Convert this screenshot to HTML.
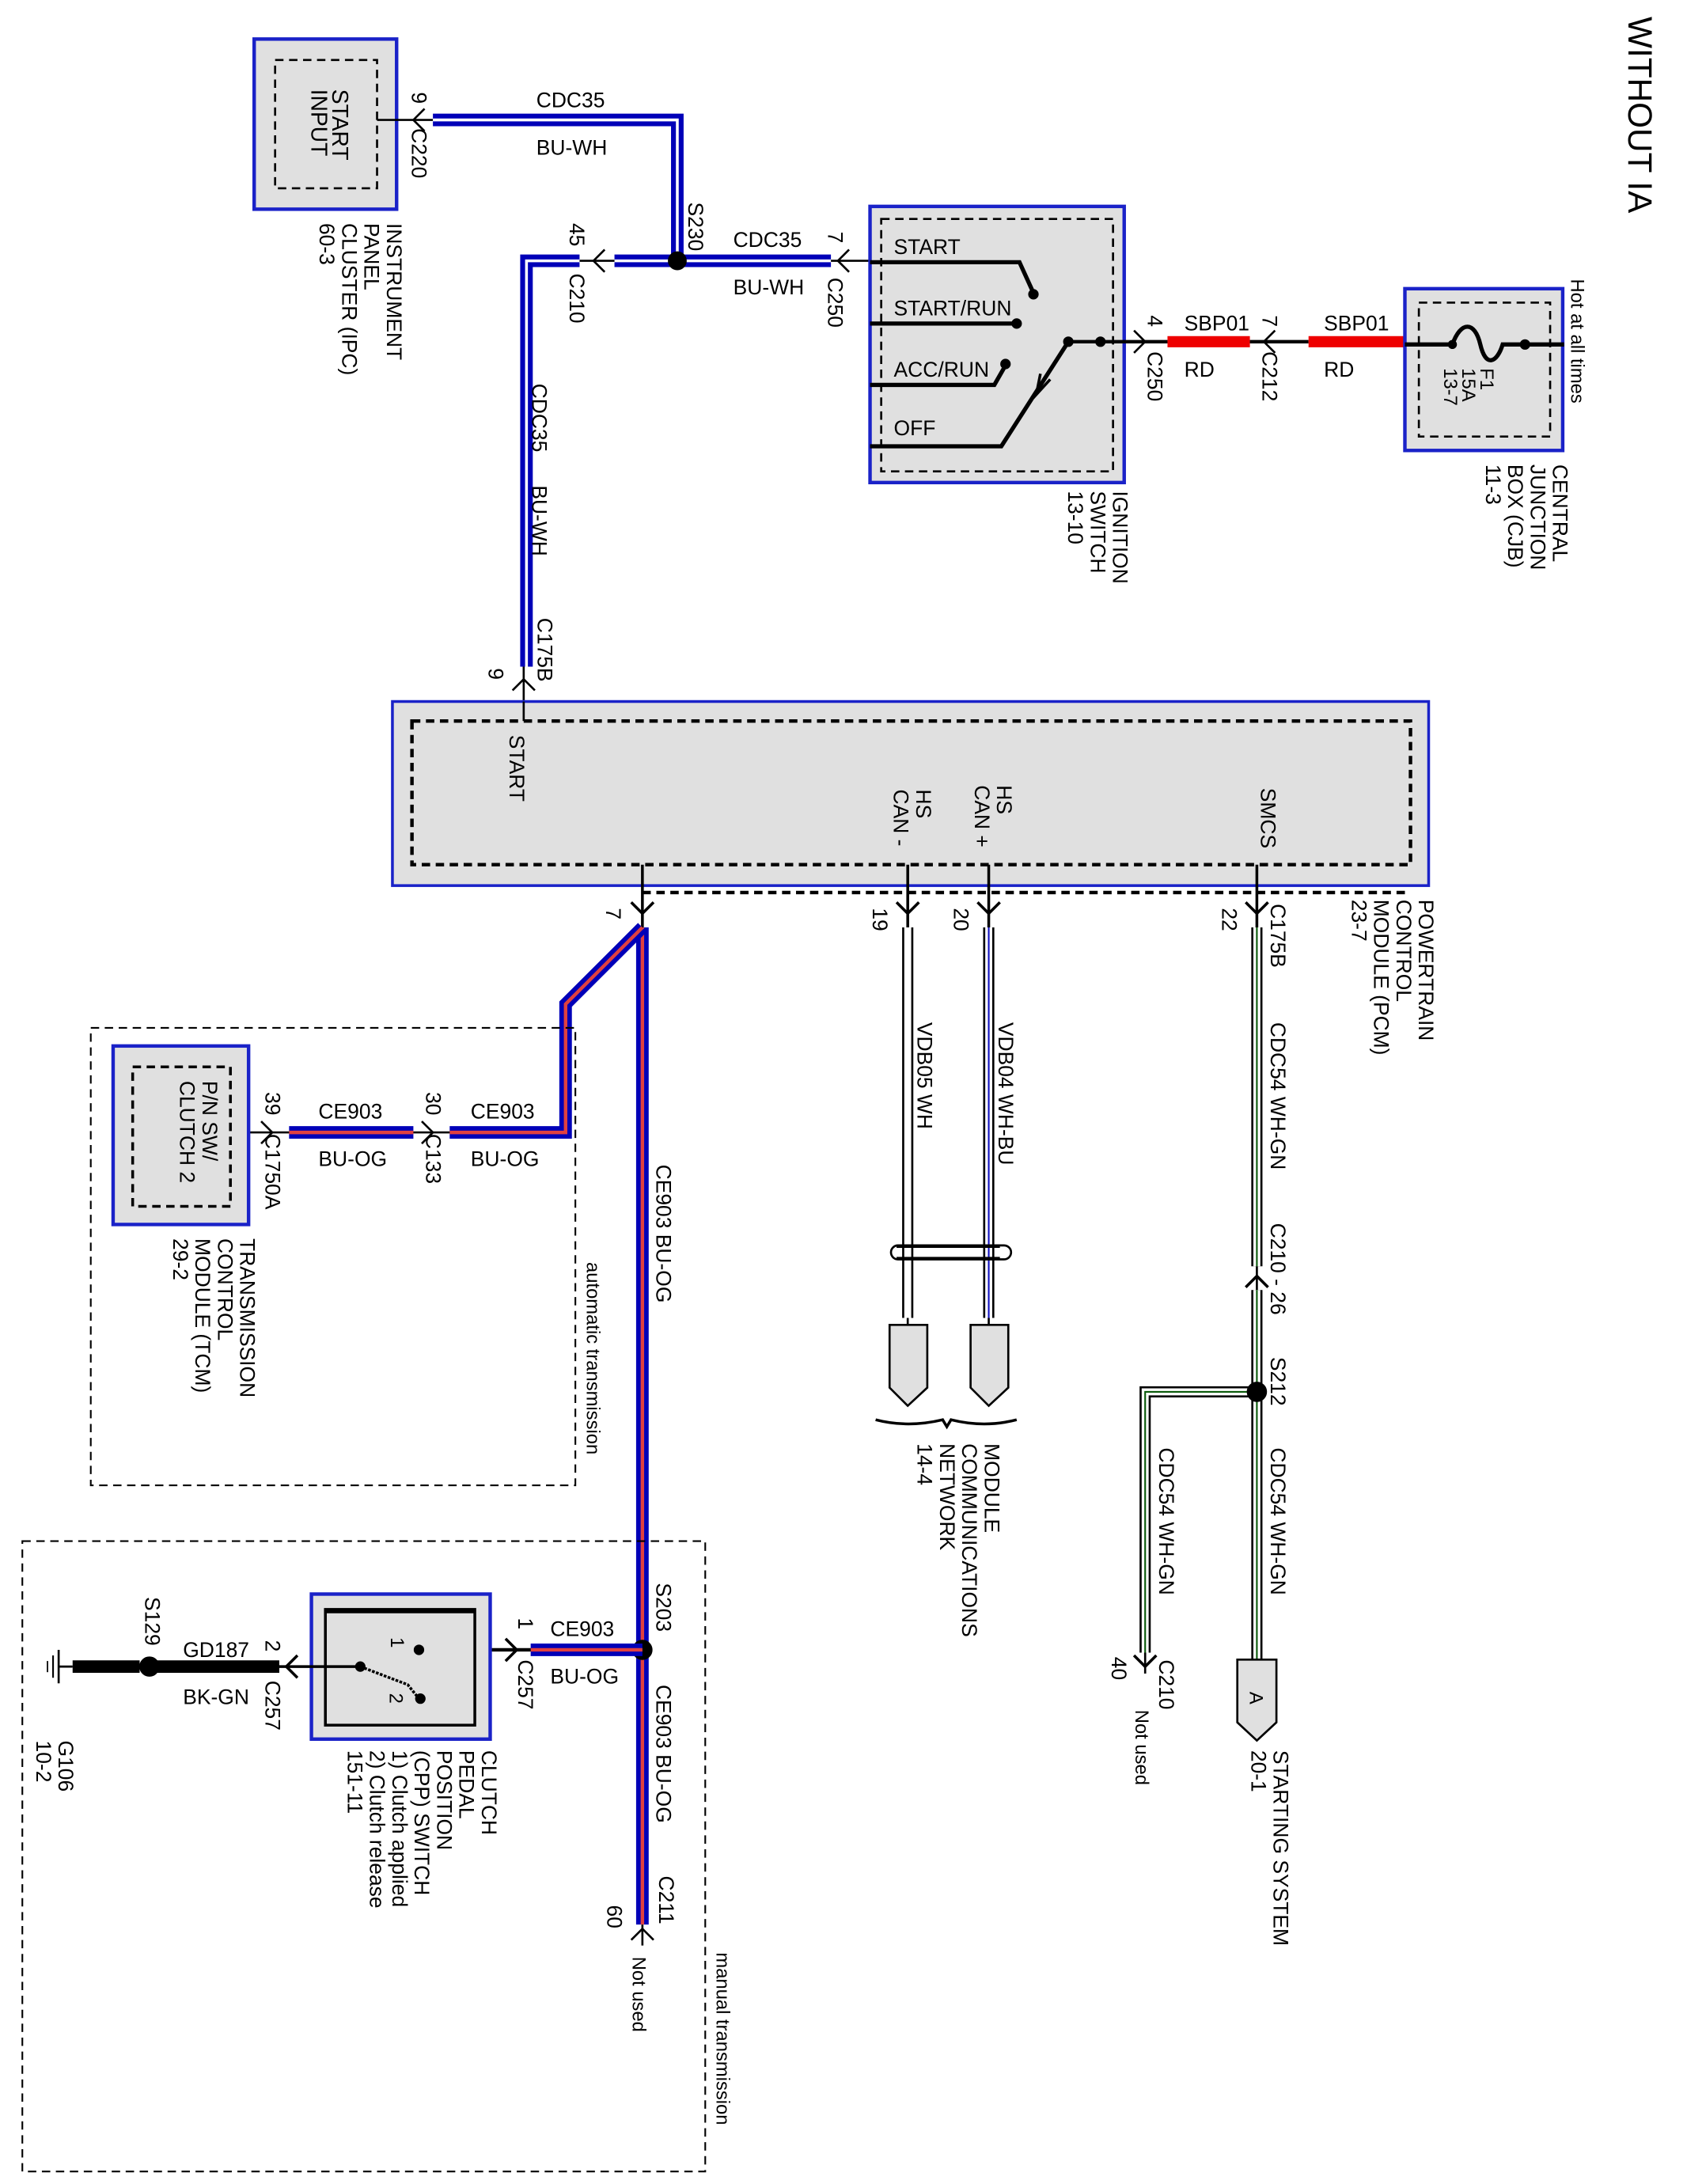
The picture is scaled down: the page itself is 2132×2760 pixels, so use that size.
<!DOCTYPE html>
<html><head><meta charset="utf-8"><style>
html,body{margin:0;padding:0;background:#fff;}
svg{display:block;}
text{font-family:"Liberation Sans",Arial,sans-serif;font-size:15px;fill:#000;}
.s{font-size:13.5px;}
</style></head><body>
<svg width="2132" height="2760" viewBox="0 0 1208 1566" preserveAspectRatio="none" xmlns="http://www.w3.org/2000/svg">
<g fill="none" stroke="#000" stroke-width="1.5">
<!-- IPC -->
<rect x="182" y="28" width="102" height="122" fill="#e0e0e0" stroke="#1a22c8" stroke-width="2.5"/>
<rect x="197" y="43" width="73" height="92" stroke-dasharray="6,4"/>
<line x1="270" y1="86" x2="310" y2="86"/>
<polyline points="304,78 296,86 304,94"/>
<!-- BU-WH wire top -->
<path d="M310,86 H485 V187" stroke="#0000b8" stroke-width="9"/>
<path d="M310,86 H485 V187" stroke="#fff" stroke-width="2"/>
<line x1="440" y1="187" x2="595" y2="187" stroke="#0000b8" stroke-width="9"/>
<line x1="440" y1="187" x2="595" y2="187" stroke="#fff" stroke-width="2"/>
<line x1="415" y1="187" x2="440" y2="187"/>
<polyline points="433,179 425,187 433,195"/>
<line x1="595" y1="187" x2="623" y2="187"/>
<polyline points="608,179 600,187 608,195"/>
<circle cx="485" cy="187" r="6" fill="#000"/>
<path d="M415,187 H377 V478" stroke="#0000b8" stroke-width="9"/>
<path d="M415,187 H377 V478" stroke="#fff" stroke-width="2"/>
<line x1="375" y1="478" x2="375" y2="503"/>
<polyline points="367,495 375,487 383,495"/>
<!-- Ignition switch -->
<rect x="623" y="148" width="182" height="198" fill="#e0e0e0" stroke="#1a22c8" stroke-width="2.5"/>
<rect x="631" y="157" width="166" height="181" stroke-dasharray="6,4"/>
<path d="M623,188 H730 L740,210" stroke-width="3"/><circle cx="740" cy="211" r="3" fill="#000"/>
<path d="M623,232 H728" stroke-width="3"/><circle cx="728" cy="232" r="3" fill="#000"/>
<path d="M623,276 H712 L720,262" stroke-width="3"/><circle cx="720" cy="261" r="3" fill="#000"/>
<path d="M623,320 H717 L765,245" stroke-width="3"/>
<polyline points="745,268 742,283 752,272" stroke-width="2"/>
<line x1="765" y1="245" x2="836" y2="245" stroke-width="2.5"/>
<circle cx="765" cy="245" r="3" fill="#000"/><circle cx="788" cy="245" r="3" fill="#000"/>
<polyline points="812,237 820,245 812,253"/>
<line x1="836" y1="245" x2="895" y2="245" stroke="#e00" stroke-width="8"/>
<line x1="895" y1="245" x2="937" y2="245" stroke-width="2.5"/>
<polyline points="913,237 905,245 913,253"/>
<line x1="937" y1="245" x2="1005" y2="245" stroke="#e00" stroke-width="8"/>
<!-- CJB -->
<rect x="1006" y="207" width="113" height="116" fill="#e0e0e0" stroke="#1a22c8" stroke-width="2.5"/>
<rect x="1016" y="217" width="94" height="96" stroke-dasharray="6,4"/>
<path d="M1006,247 H1040 C1046,230 1056,230 1060,247 C1064,264 1072,260 1076,247 H1120" stroke-width="3"/>
<circle cx="1040" cy="247" r="2.5" fill="#000"/><circle cx="1092" cy="247" r="3" fill="#000"/>
<!-- PCM -->
<rect x="281" y="503" width="742" height="132" fill="#e0e0e0" stroke="#1a22c8" stroke-width="2"/>
<rect x="295" y="517" width="715" height="103" stroke-dasharray="6,4" stroke-width="2.5"/>
<line x1="460" y1="640" x2="1010" y2="640" stroke-dasharray="6,4" stroke-width="2.5"/>
<line x1="375" y1="503" x2="375" y2="517"/>
<line x1="460" y1="620" x2="460" y2="665" stroke-width="2"/>
<line x1="650" y1="620" x2="650" y2="665" stroke-width="2"/>
<line x1="708" y1="620" x2="708" y2="665" stroke-width="2"/>
<line x1="900" y1="620" x2="900" y2="665" stroke-width="2"/>
<polyline points="452,647 460,655 468,647" stroke-width="2"/>
<polyline points="642,647 650,655 658,647" stroke-width="2"/>
<polyline points="700,647 708,655 716,647" stroke-width="2"/>
<polyline points="892,647 900,655 908,647" stroke-width="2"/>
<!-- BU-OG wires -->
<path d="M460,665 V1380" stroke="#0000b8" stroke-width="9"/>
<path d="M460,665 V1380" stroke="#e04040" stroke-width="2.5"/>
<path d="M460,665 L405,720 V812 H322" stroke="#0000b8" stroke-width="9"/>
<path d="M460,665 L405,720 V812 H322" stroke="#e04040" stroke-width="2.5"/>
<line x1="296" y1="812" x2="322" y2="812"/>
<polyline points="302,804 310,812 302,820"/>
<line x1="207" y1="812" x2="296" y2="812" stroke="#0000b8" stroke-width="9"/>
<line x1="207" y1="812" x2="296" y2="812" stroke="#e04040" stroke-width="2.5"/>
<line x1="165" y1="812" x2="207" y2="812"/>
<polyline points="187,804 195,812 187,820"/>
<!-- TCM -->
<rect x="81" y="750" width="97" height="128" fill="#e0e0e0" stroke="#1a22c8" stroke-width="2.5"/>
<rect x="95" y="765" width="70" height="100" stroke-dasharray="6,4" stroke-width="2"/>
<rect x="65" y="737" width="347" height="328" stroke-dasharray="6,4" stroke-width="1.2"/>
<!-- manual -->
<rect x="16" y="1105" width="489" height="452" stroke-dasharray="6,4" stroke-width="1.2"/>
<circle cx="460" cy="1183" r="6.5" fill="#000"/>
<line x1="380" y1="1183" x2="460" y2="1183" stroke="#0000b8" stroke-width="9"/>
<line x1="380" y1="1183" x2="460" y2="1183" stroke="#e04040" stroke-width="2.5"/>
<line x1="300" y1="1183" x2="380" y2="1183" stroke-width="2.5"/>
<polyline points="362,1175 370,1183 362,1191" stroke-width="2"/>
<line x1="460" y1="1380" x2="460" y2="1395"/>
<polyline points="452,1391 460,1383 468,1391"/>
<rect x="223" y="1143" width="128" height="104" fill="#e0e0e0" stroke="#1a22c8" stroke-width="2.5"/>
<rect x="233" y="1154" width="107" height="83" stroke-width="2"/>
<line x1="233" y1="1155" x2="340" y2="1155" stroke-width="3.5"/>
<circle cx="300" cy="1183" r="3" fill="#000"/>
<line x1="200" y1="1195" x2="258" y2="1195" stroke-width="2"/>
<circle cx="258" cy="1195" r="3" fill="#000"/>
<path d="M258,1195 L292,1208 L300,1218" stroke-width="2" stroke-dasharray="2,1"/>
<circle cx="301" cy="1218" r="3" fill="#000"/>
<polyline points="213,1187 205,1195 213,1203" stroke-width="2"/>
<line x1="110" y1="1195" x2="200" y2="1195" stroke-width="9"/>
<line x1="52" y1="1195" x2="100" y2="1195" stroke-width="9"/>
<circle cx="107" cy="1195" r="6.5" fill="#000"/>
<line x1="42" y1="1183" x2="42" y2="1207" stroke-width="1.5"/>
<line x1="38" y1="1187" x2="38" y2="1203" stroke-width="1.2"/>
<line x1="34" y1="1191" x2="34" y2="1199" stroke-width="1"/>
<line x1="42" y1="1195" x2="52" y2="1195" stroke-width="1.5"/>
<!-- CAN wires -->
<g>
<line x1="650" y1="665" x2="650" y2="945" stroke-width="8"/>
<line x1="650" y1="665" x2="650" y2="945" stroke="#fff" stroke-width="5"/>
<line x1="708" y1="665" x2="708" y2="945" stroke-width="8"/>
<line x1="708" y1="665" x2="708" y2="945" stroke="#fff" stroke-width="5"/>
<line x1="708" y1="665" x2="708" y2="945" stroke="#1010c0" stroke-width="1.2"/>
<line x1="650" y1="945" x2="650" y2="962" stroke-width="1.5"/>
<line x1="708" y1="945" x2="708" y2="962" stroke-width="1.5"/>
<path d="M642,894 H716 M642,902 H716" stroke-width="1.5"/>
<rect x="638" y="893" width="86" height="10" rx="5" stroke-width="1.5"/>
<path d="M637,950 H664 V995 L650,1008 L637,995 Z" fill="#e0e0e0"/>
<path d="M695,950 H722 V995 L708,1008 L695,995 Z" fill="#e0e0e0"/>
<path d="M627,1018 Q650,1024 675,1018 L678,1023 L681,1018 Q705,1024 728,1018" stroke-width="2"/>
</g>
<!-- SMCS wire -->
<g>
<line x1="900" y1="665" x2="900" y2="908" stroke-width="8"/>
<line x1="900" y1="665" x2="900" y2="908" stroke="#fff" stroke-width="5"/>
<line x1="900" y1="665" x2="900" y2="908" stroke="#0a5a0a" stroke-width="1.2"/>
<polyline points="892,923 900,915 908,923" stroke-width="2"/>
<line x1="900" y1="908" x2="900" y2="925" stroke-width="1.5"/>
<line x1="900" y1="925" x2="900" y2="1190" stroke-width="8"/>
<line x1="900" y1="925" x2="900" y2="1190" stroke="#fff" stroke-width="5"/>
<line x1="900" y1="925" x2="900" y2="1190" stroke="#0a5a0a" stroke-width="1.2"/>
<path d="M900,998 H820 V1185" stroke-width="8"/>
<path d="M900,998 H820 V1185" stroke="#fff" stroke-width="5"/>
<path d="M900,998 H820 V1185" stroke="#0a5a0a" stroke-width="1.2"/>
<circle cx="900" cy="998" r="6.5" fill="#000"/>
<polyline points="812,1187 820,1195 828,1187" stroke-width="2"/>
<line x1="820" y1="1185" x2="820" y2="1200"/>
<path d="M886,1190 H914 V1235 L900,1248 L886,1235 Z" fill="#e0e0e0"/>
</g>
</g>
<!-- texts -->
<text transform="translate(1166,12) rotate(90)" style="font-size:24px">WITHOUT IA</text>
<text transform="translate(238,64) rotate(90)" style="font-size:16px">START</text>
<text transform="translate(223,64) rotate(90)" style="font-size:16px">INPUT</text>
<text transform="translate(295,66) rotate(90)">9</text>
<text transform="translate(295,92) rotate(90)">C220</text>
<text transform="translate(277,160) rotate(90)">INSTRUMENT</text>
<text transform="translate(261,160) rotate(90)">PANEL</text>
<text transform="translate(245,160) rotate(90)">CLUSTER (IPC)</text>
<text transform="translate(229,160) rotate(90)">60-3</text>
<text x="384" y="77">CDC35</text>
<text x="384" y="111">BU-WH</text>
<text transform="translate(493,145) rotate(90)">S230</text>
<text x="525" y="177">CDC35</text>
<text x="525" y="211">BU-WH</text>
<text transform="translate(593,166) rotate(90)">7</text>
<text transform="translate(593,199) rotate(90)">C250</text>
<text transform="translate(408,160) rotate(90)">45</text>
<text transform="translate(408,196) rotate(90)">C210</text>
<text transform="translate(381,275) rotate(90)">CDC35</text>
<text transform="translate(381,348) rotate(90)">BU-WH</text>
<text transform="translate(385,443) rotate(90)">C175B</text>
<text transform="translate(350,479) rotate(90)">9</text>
<text x="640" y="182">START</text>
<text x="640" y="226">START/RUN</text>
<text x="640" y="270">ACC/RUN</text>
<text x="640" y="312">OFF</text>
<text transform="translate(797,352) rotate(90)">IGNITION</text>
<text transform="translate(781,352) rotate(90)">SWITCH</text>
<text transform="translate(765,352) rotate(90)">13-10</text>
<text transform="translate(822,226) rotate(90)">4</text>
<text transform="translate(822,252) rotate(90)">C250</text>
<text x="848" y="237">SBP01</text>
<text x="848" y="270">RD</text>
<text transform="translate(904,226) rotate(90)">7</text>
<text transform="translate(904,252) rotate(90)">C212</text>
<text x="948" y="237">SBP01</text>
<text x="948" y="270">RD</text>
<text transform="translate(1125,200) rotate(90)" class="s">Hot at all times</text>
<text transform="translate(1060,264) rotate(90)" class="s">F1</text>
<text transform="translate(1047,264) rotate(90)" class="s">15A</text>
<text transform="translate(1034,264) rotate(90)" class="s">13-7</text>
<text transform="translate(1112,333) rotate(90)">CENTRAL</text>
<text transform="translate(1096,333) rotate(90)">JUNCTION</text>
<text transform="translate(1080,333) rotate(90)">BOX (CJB)</text>
<text transform="translate(1064,333) rotate(90)">11-3</text>
<text transform="translate(365,527) rotate(90)">START</text>
<text transform="translate(656,566) rotate(90)">HS</text>
<text transform="translate(640,566) rotate(90)">CAN -</text>
<text transform="translate(714,563) rotate(90)">HS</text>
<text transform="translate(698,563) rotate(90)">CAN +</text>
<text transform="translate(903,565) rotate(90)">SMCS</text>
<text transform="translate(1016,645) rotate(90)">POWERTRAIN</text>
<text transform="translate(1000,645) rotate(90)">CONTROL</text>
<text transform="translate(984,645) rotate(90)">MODULE (PCM)</text>
<text transform="translate(968,645) rotate(90)">23-7</text>
<text transform="translate(434,651) rotate(90)">7</text>
<text transform="translate(625,651) rotate(90)">19</text>
<text transform="translate(683,651) rotate(90)">20</text>
<text transform="translate(875,651) rotate(90)">22</text>
<text transform="translate(910,648) rotate(90)">C175B</text>
<text transform="translate(657,733) rotate(90)">VDB05   WH</text>
<text transform="translate(715,733) rotate(90)">VDB04   WH-BU</text>
<text transform="translate(910,733) rotate(90)">CDC54   WH-GN</text>
<text transform="translate(910,877) rotate(90)">C210  -  26</text>
<text transform="translate(910,973) rotate(90)">S212</text>
<text transform="translate(910,1038) rotate(90)">CDC54   WH-GN</text>
<text transform="translate(830,1038) rotate(90)">CDC54   WH-GN</text>
<text transform="translate(830,1190) rotate(90)">C210</text>
<text transform="translate(796,1188) rotate(90)">40</text>
<text transform="translate(813,1226) rotate(90)" class="s">Not used</text>
<text transform="translate(895,1213) rotate(90)" class="s">A</text>
<text transform="translate(912,1255) rotate(90)">STARTING SYSTEM</text>
<text transform="translate(896,1255) rotate(90)">20-1</text>
<text transform="translate(705,1035) rotate(90)">MODULE</text>
<text transform="translate(689,1035) rotate(90)">COMMUNICATIONS</text>
<text transform="translate(673,1035) rotate(90)">NETWORK</text>
<text transform="translate(657,1035) rotate(90)">14-4</text>
<text transform="translate(470,835) rotate(90)">CE903   BU-OG</text>
<text x="337" y="802">CE903</text>
<text x="337" y="836">BU-OG</text>
<text x="228" y="802">CE903</text>
<text x="228" y="836">BU-OG</text>
<text transform="translate(305,783) rotate(90)">30</text>
<text transform="translate(305,813) rotate(90)">C133</text>
<text transform="translate(190,783) rotate(90)">39</text>
<text transform="translate(190,813) rotate(90)">C1750A</text>
<text transform="translate(145,775) rotate(90)">P/N SW/</text>
<text transform="translate(129,775) rotate(90)">CLUTCH 2</text>
<text transform="translate(172,888) rotate(90)">TRANSMISSION</text>
<text transform="translate(156,888) rotate(90)">CONTROL</text>
<text transform="translate(140,888) rotate(90)">MODULE (TCM)</text>
<text transform="translate(124,888) rotate(90)">29-2</text>
<text transform="translate(420,905) rotate(90)" class="s">automatic transmission</text>
<text transform="translate(470,1135) rotate(90)">S203</text>
<text transform="translate(470,1208) rotate(90)">CE903   BU-OG</text>
<text transform="translate(472,1345) rotate(90)">C211</text>
<text transform="translate(435,1366) rotate(90)">60</text>
<text transform="translate(453,1403) rotate(90)" class="s">Not used</text>
<text transform="translate(513,1400) rotate(90)" class="s">manual transmission</text>
<text transform="translate(371,1160) rotate(90)">1</text>
<text transform="translate(371,1190) rotate(90)">C257</text>
<text x="394" y="1173">CE903</text>
<text x="394" y="1207">BU-OG</text>
<text transform="translate(280,1174) rotate(90)" class="s">1</text>
<text transform="translate(279,1214) rotate(90)" class="s">2</text>
<text transform="translate(190,1176) rotate(90)">2</text>
<text transform="translate(190,1205) rotate(90)">C257</text>
<text x="131" y="1188">GD187</text>
<text x="131" y="1222">BK-GN</text>
<text transform="translate(104,1145) rotate(90)">S129</text>
<text transform="translate(42,1248) rotate(90)">G106</text>
<text transform="translate(26,1248) rotate(90)">10-2</text>
<text transform="translate(345,1255) rotate(90)">CLUTCH</text>
<text transform="translate(329,1255) rotate(90)">PEDAL</text>
<text transform="translate(313,1255) rotate(90)">POSITION</text>
<text transform="translate(297,1255) rotate(90)">(CPP) SWITCH</text>
<text transform="translate(281,1255) rotate(90)">1) Clutch applied</text>
<text transform="translate(265,1255) rotate(90)">2) Clutch release</text>
<text transform="translate(249,1255) rotate(90)">151-11</text>
</svg>
</body></html>
